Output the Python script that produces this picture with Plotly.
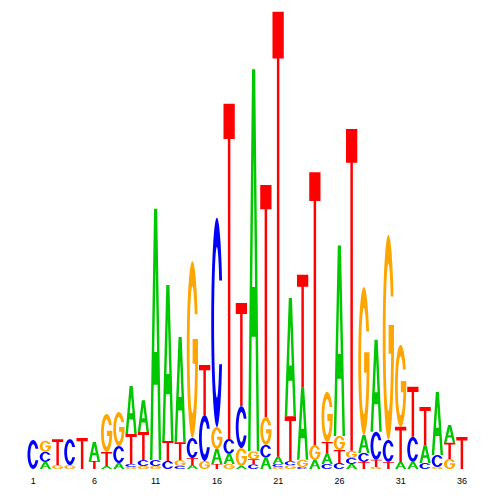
import math
import plotly.graph_objects as go

# ---- data (information content in bits, per position) ----
positions = list(range(1, 37))
A_bits = [0.000, 0.031, 0.000, 0.000, 0.000, 0.083, 0.013, 0.026, 0.209, 0.139,
          1.095, 0.680, 0.458, 0.017, 0.000, 0.065, 0.044, 0.013, 1.665, 0.050,
          0.031, 0.515, 0.314, 0.039, 0.044, 0.830, 0.022, 0.078, 0.401, 0.000,
          0.031, 0.031, 0.078, 0.275, 0.078, 0.000]
C_bits = [0.126, 0.044, 0.000, 0.113, 0.000, 0.000, 0.000, 0.074, 0.013, 0.026,
          0.026, 0.035, 0.013, 0.087, 0.200, 0.912, 0.065, 0.183, 0.020, 0.055,
          0.013, 0.018, 0.009, 0.000, 0.022, 0.026, 0.026, 0.039, 0.122, 0.096,
          0.000, 0.109, 0.026, 0.052, 0.000, 0.000]
G_bits = [0.000, 0.048, 0.017, 0.017, 0.000, 0.000, 0.166, 0.148, 0.009, 0.013,
          0.013, 0.000, 0.026, 0.770, 0.035, 0.096, 0.022, 0.078, 0.035, 0.122,
          0.009, 0.016, 0.031, 0.065, 0.218, 0.061, 0.031, 0.645, 0.009, 0.893,
          0.357, 0.000, 0.000, 0.009, 0.044, 0.000]
T_bits = [0.000, 0.000, 0.113, 0.000, 0.135, 0.035, 0.061, 0.000, 0.131, 0.122,
          0.000, 0.087, 0.078, 0.031, 0.218, 0.022, 1.460, 0.449, 0.022, 1.011,
          1.939, 0.196, 0.492, 1.189, 0.052, 0.057, 1.403, 0.031, 0.031, 0.031,
          0.153, 0.218, 0.166, 0.000, 0.070, 0.139]
tick_vals = [1, 6, 11, 16, 21, 26, 31, 36]
tick_text = ["1", "6", "11", "16", "21", "26", "31", "36"]

colors = {"A": "#00c800", "C": "#0000ff", "G": "#ffa500", "T": "#ff0000"}

# ---- glyph outlines in a unit box ----
IN_RX, IN_RY = 0.25, 0.36


def _ell(theta, rx, ry):
    return (0.5 + rx * math.cos(theta), 0.5 + ry * math.sin(theta))


def _arc(a0, a1, rx, ry, n=60):
    return [_ell(a0 + (a1 - a0) * i / (n - 1), rx, ry) for i in range(n)]


def glyph_C():
    cut = 0.20
    ao = math.asin(cut / 0.5)
    ai = math.asin(cut / IN_RY)
    pts = _arc(ao, 2 * math.pi - ao, 0.5, 0.5) + _arc(2 * math.pi - ai, ai, IN_RX, IN_RY)
    return [pts]


def glyph_G():
    cut = 0.20
    ao = math.asin(cut / 0.5)
    ai = math.asin(cut / IN_RY)
    bar_lo, bar_hi, bar_x = 0.42, 0.56, 0.52
    ab = 2 * math.pi - math.asin((0.5 - bar_lo) / IN_RY)
    pts = _arc(ao, 2 * math.pi, 0.5, 0.5)
    pts += [(1.0, bar_hi), (bar_x, bar_hi), (bar_x, bar_lo)]
    pts += _arc(ab, ai, IN_RX, IN_RY)
    return [pts]


def glyph_T():
    bar = 0.895
    s0, s1 = 0.39, 0.61
    return [[(0, 1), (0, bar), (s0, bar), (s0, 0), (s1, 0), (s1, bar), (1, bar), (1, 1)]]


def glyph_A():
    L, k = 0.22, 0.36
    cb0, cb1 = 0.30, 0.43
    apex = (0.5 - L) / k
    left = [(0, 0), (L, 0), (L + k * cb0, cb0), (0.5, cb0), (0.5, cb1),
            (L + k * cb1, cb1), (0.5, apex), (0.5, 1), (k, 1)]
    right = [(1 - x, y) for (x, y) in reversed(left)]
    return [left, right]


GLYPHS = {"A": glyph_A(), "C": glyph_C(), "G": glyph_G(), "T": glyph_T()}

# ---- build stacked letters ----
bits = {"A": A_bits, "C": C_bits, "G": G_bits, "T": T_bits}
WIDTH = 0.92
xs = {k: [] for k in bits}
ys = {k: [] for k in bits}
for i, p in enumerate(positions):
    col = sorted(((bits[k][i], k) for k in "ACGT"), key=lambda t: t[0])
    base = 0.0
    for h, k in col:
        if h <= 0:
            continue
        for poly in GLYPHS[k]:
            for (ux, uy) in poly:
                xs[k].append(p - WIDTH / 2 + ux * WIDTH)
                ys[k].append(base + uy * h)
            xs[k].append(xs[k][-len(poly)])
            ys[k].append(ys[k][-len(poly)])
            xs[k].append(None)
            ys[k].append(None)
        base += h

fig = go.Figure()
for k in "ACGT":
    fig.add_trace(go.Scatter(
        x=xs[k], y=ys[k], mode="lines", fill="toself",
        fillcolor=colors[k], line=dict(width=0, color=colors[k], simplify=False),
        hoverinfo="skip", showlegend=False, name=k,
    ))

# page body adds an 8px offset, so the figure is 492 px and margins compensate
fig.update_layout(
    width=492, height=492,
    margin=dict(l=19, r=32, t=2, b=31),
    paper_bgcolor="white", plot_bgcolor="white",
    xaxis=dict(range=[0.5, 36.5], tickvals=tick_vals, ticktext=tick_text,
               showgrid=False, zeroline=False, showline=False,
               ticks="outside", ticklen=3, tickcolor="rgba(0,0,0,0)",
               tickfont=dict(family="Liberation Sans, Arial, sans-serif", size=9, color="black")),
    yaxis=dict(range=[0, 2.0], visible=False, showgrid=False, zeroline=False),
)

fig.write_html("out.html")
